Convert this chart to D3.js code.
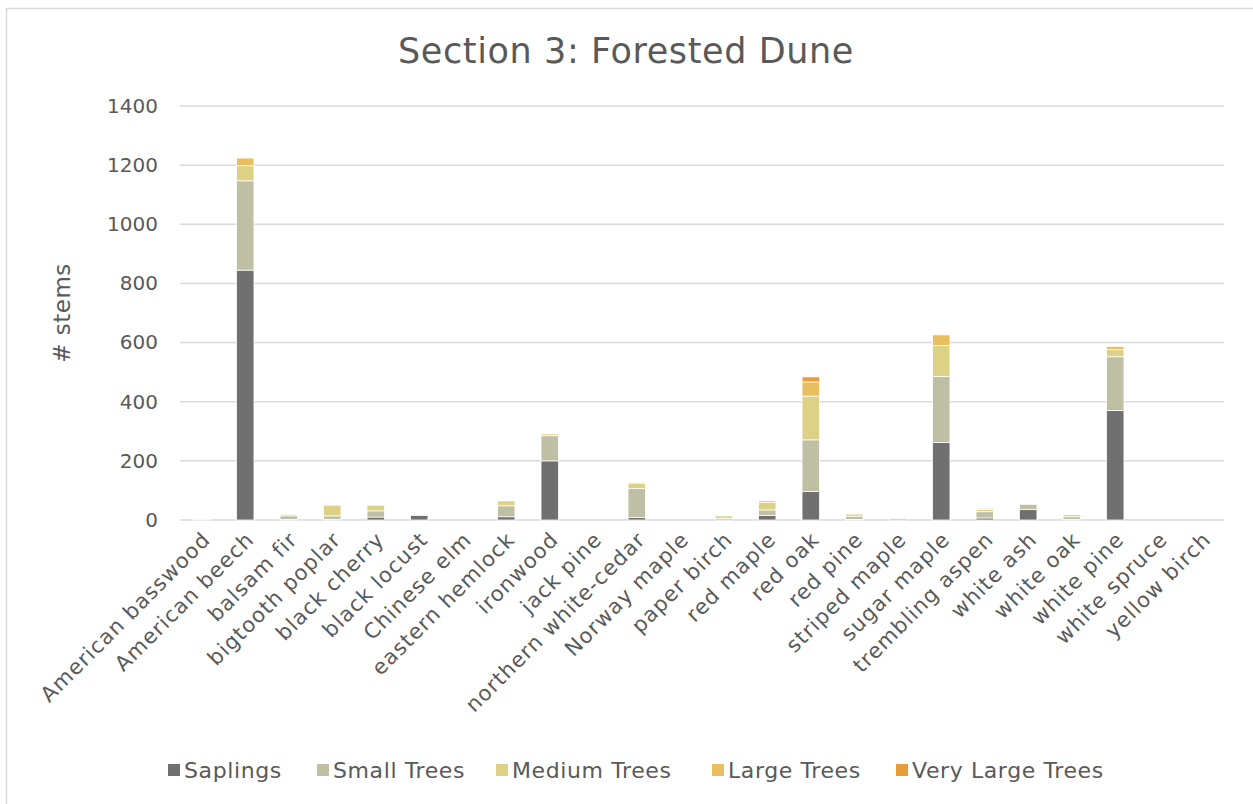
<!DOCTYPE html>
<html>
<head>
<meta charset="utf-8">
<script src="https://cdn.jsdelivr.net/npm/d3@7"></script>
<style>
  body { margin: 0; background: #fff; }
  text { font-family: "DejaVu Sans", sans-serif; fill: #595959; }
</style>
</head>
<body>
<script>
// Species along the x axis
var categories = ["American basswood", "American beech", "balsam fir", "bigtooth poplar",
  "black cherry", "black locust", "Chinese elm", "eastern hemlock", "ironwood", "jack pine",
  "northern white-cedar", "Norway maple", "paper birch", "red maple", "red oak", "red pine",
  "striped maple", "sugar maple", "trembling aspen", "white ash", "white oak", "white pine",
  "white spruce", "yellow birch"];

// Stem counts per size class
var saplings    = [0, 845, 2, 2, 10, 15, 0, 11, 200, 0, 8, 0, 0, 15, 96, 2, 0, 262, 7, 35, 2, 370, 0, 0];
var smallTrees  = [3, 302, 12, 12, 21, 0, 0, 37, 85, 0, 98, 0, 6, 19, 175, 11, 5, 223, 21, 18, 9, 182, 0, 0];
var mediumTrees = [2, 51, 5, 36, 19, 0, 0, 17, 6, 0, 19, 0, 8, 26, 148, 7, 0, 105, 8, 0, 7, 24, 0, 0];
var largeTrees  = [0, 26, 0, 0, 0, 0, 0, 2, 0, 0, 1, 0, 0, 5, 48, 0, 0, 36, 3, 0, 0, 11, 0, 0];
var veryLarge   = [0, 0, 0, 0, 0, 0, 0, 0, 0, 0, 0, 0, 0, 0, 17, 0, 0, 0, 0, 0, 0, 0, 0, 0];

var seriesNames = ["Saplings", "Small Trees", "Medium Trees", "Large Trees", "Very Large Trees"];
var yTicks = [0, 200, 400, 600, 800, 1000, 1200, 1400];

var colors = ["#707070", "#bfbfa4", "#ddd185", "#e8be5e", "#e99d37"];

var svgWidth = 1253;
var svgHeight = 804;

var svg = d3.select("body")
  .append("svg")
  .attr("width", svgWidth)
  .attr("height", svgHeight);

// chart frame
svg.append("rect")
  .attr("x", 6.5).attr("y", 8.5)
  .attr("width", 1260).attr("height", 820)
  .attr("fill", "#fff")
  .attr("stroke", "#d9d9d9")
  .attr("stroke-width", 1.5);

// build one row per species for d3.stack
var table = categories.map(function(c, i) {
  return {
    species: c,
    "Saplings": saplings[i],
    "Small Trees": smallTrees[i],
    "Medium Trees": mediumTrees[i],
    "Large Trees": largeTrees[i],
    "Very Large Trees": veryLarge[i]
  };
});

var x = d3.scaleBand()
  .domain(categories)
  .range([180, 1224])
  .paddingInner(0.6)
  .paddingOuter(0.3);

var y = d3.scaleLinear()
  .domain([0, 1400])
  .range([520, 106]);

var color = d3.scaleOrdinal().domain(seriesNames).range(colors);

// gridlines
svg.append("g")
  .selectAll("line")
  .data(yTicks)
  .join("line")
  .attr("x1", 180).attr("x2", 1224)
  .attr("y1", d => y(d)).attr("y2", d => y(d))
  .attr("stroke", "#d9d9d9")
  .attr("stroke-width", 1.5);

// y axis labels
var leftAxis = d3.axisLeft(y).tickValues(yTicks).tickFormat(d3.format("d")).tickSize(0).tickPadding(22);
var yAxisG = svg.append("g")
  .attr("transform", "translate(180,0)")
  .call(leftAxis);
yAxisG.select(".domain").remove();
yAxisG.selectAll("text")
  .style("font-size", "20px")
  .style("font-family", "DejaVu Sans, sans-serif")
  .attr("fill", "#595959");

// stacked bars
var stacked = d3.stack().keys(seriesNames)(table);

svg.append("g")
  .selectAll("g")
  .data(stacked)
  .join("g")
  .attr("fill", d => color(d.key))
  .selectAll("rect")
  .data(d => d)
  .join("rect")
  .attr("x", d => x(d.data.species))
  .attr("width", x.bandwidth())
  .attr("y", d => y(d[1]))
  .attr("height", d => y(d[0]) - y(d[1]))
  .attr("stroke", "#fff")
  .attr("stroke-width", 0.75);

// x axis labels, rotated
var bottomAxis = d3.axisBottom(x).tickSize(0).tickPadding(0);
var xAxisG = svg.append("g")
  .attr("transform", "translate(0,520)")
  .call(bottomAxis);
xAxisG.select(".domain").remove();
xAxisG.selectAll("text")
  .style("font-size", "21px")
  .style("letter-spacing", "1.1px")
  .style("font-family", "DejaVu Sans, sans-serif")
  .attr("fill", "#595959")
  .attr("text-anchor", "end")
  .attr("y", 0)
  .attr("dy", "0.6em")
  .attr("transform", "translate(1,12) rotate(-45)");

// title
svg.append("text")
  .attr("x", 626).attr("y", 63)
  .attr("text-anchor", "middle")
  .style("font-size", "35px")
  .style("letter-spacing", "0.6px")
  .text("Section 3: Forested Dune");

// y axis title
svg.append("text")
  .attr("transform", "translate(70,313) rotate(-90)")
  .attr("text-anchor", "middle")
  .style("font-size", "23px")
  .style("letter-spacing", "0.5px")
  .text("# stems");

// legend
var legendX = [168, 317, 496, 712, 896];
var legend = svg.append("g")
  .selectAll("g")
  .data(seriesNames)
  .join("g")
  .attr("transform", (d, i) => "translate(" + legendX[i] + ",770)");

legend.append("rect")
  .attr("x", 0).attr("y", -6)
  .attr("width", 12).attr("height", 12)
  .attr("fill", d => color(d));

legend.append("text")
  .attr("x", 16).attr("y", 0)
  .attr("dy", "0.35em")
  .style("font-size", "22px")
  .style("letter-spacing", "0.6px")
  .text(d => d);
</script>
</body>
</html>
